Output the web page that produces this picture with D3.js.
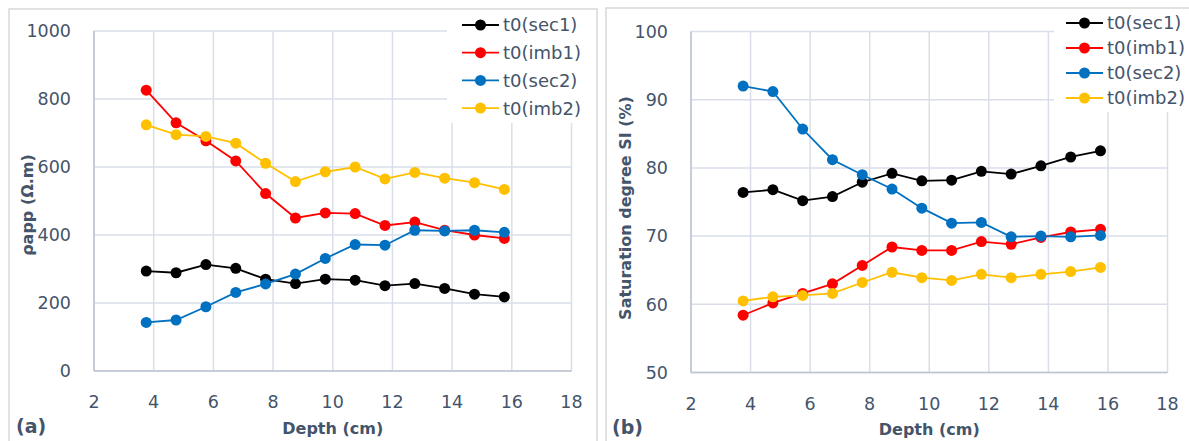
<!DOCTYPE html>
<html>
<head>
<meta charset="utf-8">
<script src="https://cdn.jsdelivr.net/npm/d3@7"></script>
<style>
  html, body { margin: 0; padding: 0; background: #fff; }
  svg { display: block; }
  text { font-family: "DejaVu Sans", sans-serif; fill: #44546a; }
</style>
</head>
<body>
<svg id="chart" width="1189" height="441"></svg>
<script>
// ---------- data ----------
const depth = [3.75, 4.75, 5.75, 6.75, 7.75, 8.75, 9.75, 10.75, 11.75, 12.75, 13.75, 14.75, 15.75];
const seriesNames = ["t0(sec1)", "t0(imb1)", "t0(sec2)", "t0(imb2)"];
const seriesColors = ["#000000", "#ff0000", "#0070c0", "#ffc000"];

// panel (a): apparent resistivity
const rhoSec1 = [294, 289, 313, 302, 270, 257, 270, 267, 251, 257, 243, 226, 218];
const rhoImb1 = [826, 730, 677, 618, 522, 450, 465, 463, 428, 438, 414, 400, 390];
const rhoSec2 = [143, 150, 189, 231, 256, 285, 331, 372, 370, 414, 412, 414, 408];
const rhoImb2 = [724, 695, 690, 670, 611, 557, 586, 600, 565, 584, 567, 554, 534];

// panel (b): saturation degree
const satSec1 = [76.4, 76.8, 75.2, 75.8, 77.9, 79.2, 78.1, 78.2, 79.5, 79.1, 80.3, 81.6, 82.5];
const satImb1 = [58.4, 60.2, 61.6, 63.0, 65.7, 68.4, 67.9, 67.9, 69.2, 68.8, 69.8, 70.6, 71.0];
const satSec2 = [92.0, 91.2, 85.7, 81.2, 79.0, 76.9, 74.1, 71.9, 72.0, 69.9, 70.0, 69.9, 70.1];
const satImb2 = [60.5, 61.1, 61.3, 61.6, 63.2, 64.7, 63.9, 63.5, 64.4, 63.9, 64.4, 64.8, 65.4];

const xTicks = [2, 4, 6, 8, 10, 12, 14, 16, 18];
const yTicksA = [0, 200, 400, 600, 800, 1000];
const yTicksB = [50, 60, 70, 80, 90, 100];

const svg = d3.select("#chart");

function drawPanel(cfg) {
  const g = svg.append("g");
  // frame
  g.append("path")
    .attr("d", cfg.frame)
    .attr("fill", "none").attr("stroke", "#d9d9d9").attr("stroke-width", 1.5);

  const x = d3.scaleLinear().domain([2, 18]).range([cfg.left, cfg.right]);
  const y = d3.scaleLinear().domain(cfg.yDomain).range([cfg.bottom, cfg.top]);

  // gridlines
  g.append("g").selectAll("line.h").data(cfg.yTicks).join("line")
    .attr("x1", cfg.left).attr("x2", cfg.right)
    .attr("y1", d => y(d)).attr("y2", d => y(d))
    .attr("stroke", "#d9dee8").attr("stroke-width", 1.5);
  g.append("g").selectAll("line.v").data(xTicks).join("line")
    .attr("x1", d => x(d)).attr("x2", d => x(d))
    .attr("y1", cfg.top).attr("y2", cfg.bottom)
    .attr("stroke", "#d9dee8").attr("stroke-width", 1.5);

  // axis lines
  g.append("line").attr("x1", cfg.left).attr("x2", cfg.left)
    .attr("y1", cfg.top).attr("y2", cfg.bottom)
    .attr("stroke", "#bcc4d2").attr("stroke-width", 1.5);
  g.append("line").attr("x1", cfg.left).attr("x2", cfg.right)
    .attr("y1", cfg.bottom).attr("y2", cfg.bottom)
    .attr("stroke", "#bcc4d2").attr("stroke-width", 1.5);

  // tick labels
  g.append("g").selectAll("text").data(cfg.yTicks).join("text")
    .attr("x", cfg.left - 23).attr("y", d => y(d))
    .attr("dy", "0.36em").attr("text-anchor", "end")
    .style("font-size", "17.5px")
    .text(d => d);
  g.append("g").selectAll("text").data(xTicks).join("text")
    .attr("x", d => x(d)).attr("y", cfg.bottom + 31)
    .attr("dy", "0.36em").attr("text-anchor", "middle")
    .style("font-size", "17.5px")
    .text(d => d);

  // series
  const line = d3.line().x((d, i) => x(depth[i])).y(d => y(d));
  cfg.series.forEach((vals, si) => {
    g.append("path").datum(vals)
      .attr("d", line).attr("fill", "none")
      .attr("stroke", seriesColors[si]).attr("stroke-width", 1.8);
    g.append("g").selectAll("circle").data(vals).join("circle")
      .attr("cx", (d, i) => x(depth[i])).attr("cy", d => y(d))
      .attr("r", 5.5).attr("fill", seriesColors[si]);
  });

  // axis titles
  g.append("text")
    .attr("x", (cfg.left + cfg.right) / 2).attr("y", cfg.bottom + 57)
    .attr("dy", "0.36em").attr("text-anchor", "middle")
    .style("font-size", "16px").style("font-weight", "bold")
    .text("Depth (cm)");
  g.append("text")
    .attr("transform", `translate(${cfg.yTitleX},${cfg.yTitleY}) rotate(-90)`)
    .attr("dy", "0.36em").attr("text-anchor", "middle")
    .style("font-size", "16px").style("font-weight", "bold")
    .text(cfg.yTitle);

  // panel label
  g.append("text")
    .attr("x", cfg.labelX).attr("y", cfg.bottom + 55)
    .attr("dy", "0.36em")
    .style("font-size", "19px").style("font-weight", "bold")
    .text(cfg.label);

  // legend
  const lg = g.append("g");
  lg.append("rect")
    .attr("x", cfg.legBox[0]).attr("y", cfg.legBox[1])
    .attr("width", cfg.legBox[2]).attr("height", cfg.legBox[3])
    .attr("fill", "#fff");
  seriesNames.forEach((name, si) => {
    const ly = cfg.legY + si * cfg.legStep;
    lg.append("line")
      .attr("x1", cfg.legX).attr("x2", cfg.legX + 37)
      .attr("y1", ly).attr("y2", ly)
      .attr("stroke", seriesColors[si]).attr("stroke-width", 1.8);
    lg.append("circle").attr("cx", cfg.legX + 18.5).attr("cy", ly)
      .attr("r", 5.5).attr("fill", seriesColors[si]);
    lg.append("text")
      .attr("x", cfg.legX + 41).attr("y", ly).attr("dy", "0.36em")
      .style("font-size", "18px")
      .text(name);
  });
}

drawPanel({
  frame: "M9,441 V9 H597 V441",
  left: 94, right: 571.5, top: 31, bottom: 371,
  yDomain: [0, 1000], yTicks: yTicksA,
  series: [rhoSec1, rhoImb1, rhoSec2, rhoImb2],
  yTitle: "ρapp (Ω.m)", yTitleX: 27, yTitleY: 205,
  label: "(a)", labelX: 16,
  legBox: [447, 11, 145, 112],
  legX: 462, legY: 25, legStep: 27.7
});

drawPanel({
  frame: "M606,441 V8 H1189",
  left: 691, right: 1167.5, top: 31.5, bottom: 372.5,
  yDomain: [50, 100], yTicks: yTicksB,
  series: [satSec1, satImb1, satSec2, satImb2],
  yTitle: "Saturation degree SI (%)", yTitleX: 625, yTitleY: 208,
  label: "(b)", labelX: 612,
  legBox: [1054, 10, 135, 102],
  legX: 1066, legY: 23, legStep: 25
});
</script>
</body>
</html>
